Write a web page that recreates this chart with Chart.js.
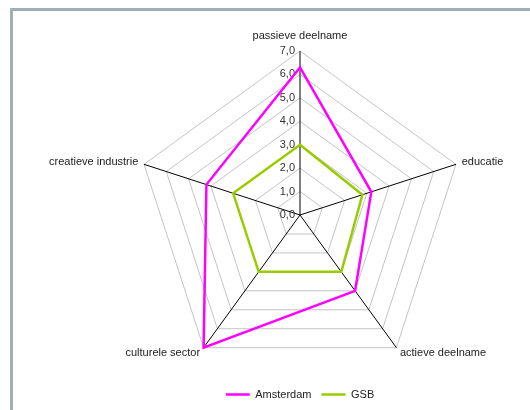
<!DOCTYPE html>
<html>
<head>
<meta charset="utf-8">
<script src="https://cdn.jsdelivr.net/npm/chart.js@4/dist/chart.umd.min.js"></script>
<style>
  html, body { margin: 0; padding: 0; background: #fff; overflow: hidden; }
  #c { display: block; }
</style>
</head>
<body>
<canvas id="c" width="530" height="410"></canvas>
<script>
// categorieën en waarden
const categorieen = ["passieve deelname", "educatie", "actieve deelname", "culturele sector", "creatieve industrie"];
const amsterdam = [6.3, 3.2, 4.0, 7.0, 4.2];
const gsb = [3.0, 2.8, 3.0, 3.0, 3.0];
const tickWaarden = [0, 1, 2, 3, 4, 5, 6, 7];

const lettertype = '"Liberation Sans", Arial, sans-serif';

// kader linksboven, zoals in het origineel
const kaderPlugin = {
  id: "kaderPlugin",
  beforeDraw(chart) {
    const ctx = chart.ctx;
    ctx.save();
    ctx.strokeStyle = "#9eafba";
    ctx.lineWidth = 3;
    ctx.beginPath();
    ctx.moveTo(11.5, chart.height);
    ctx.lineTo(11.5, 9.5);
    ctx.lineTo(chart.width, 9.5);
    ctx.stroke();
    ctx.restore();
  },
};

// tick labels en as-labels zelf tekenen (links van de as, met komma)
const labelsPlugin = {
  id: "labelsPlugin",
  beforeDatasetsDraw(chart) {
    const scale = chart.scales.r;
    const ctx = chart.ctx;
    ctx.save();
    ctx.font = "11px " + lettertype;
    ctx.fillStyle = "#333";
    ctx.textAlign = "right";
    ctx.textBaseline = "middle";
    tickWaarden.forEach(function (v) {
      const y = scale.yCenter - scale.getDistanceFromCenterForValue(v);
      ctx.fillText(v.toFixed(1).replace(".", ","), scale.xCenter - 5, y);
    });

    ctx.fillStyle = "#222";
    categorieen.forEach(function (naam, i) {
      const dx = scale.getPointPosition(i, scale.drawingArea).x - scale.xCenter;
      let pos;
      if (Math.abs(dx) < 1) {
        pos = scale.getPointPosition(i, scale.drawingArea + 10);
        ctx.textAlign = "center";
        ctx.textBaseline = "bottom";
      } else {
        pos = scale.getPointPosition(i, scale.drawingArea + 6);
        ctx.textAlign = dx > 0 ? "left" : "right";
        ctx.textBaseline = "middle";
      }
      ctx.fillText(naam, pos.x, pos.y);
    });
    ctx.restore();
  },
};

new Chart(document.getElementById("c"), {
  type: "radar",
  data: {
    labels: categorieen,
    datasets: [
      {
        label: "Amsterdam",
        data: amsterdam,
        borderColor: "#ff00ff",
        backgroundColor: "#ff00ff",
        borderWidth: 2.5,
        pointRadius: 0,
        fill: false,
      },
      {
        label: "GSB",
        data: gsb,
        borderColor: "#99cc00",
        backgroundColor: "#99cc00",
        borderWidth: 2.5,
        pointRadius: 0,
        fill: false,
      },
    ],
  },
  options: {
    responsive: false,
    animation: false,
    layout: {
      padding: { top: 51, left: 136, right: 66, bottom: 0 },
    },
    plugins: {
      legend: {
        position: "bottom",
        labels: {
          usePointStyle: true,
          pointStyle: "line",
          pointStyleWidth: 24,
          boxHeight: 2,
          color: "#222",
          font: { family: lettertype, size: 11 },
          padding: 10,
        },
      },
      tooltip: { enabled: false },
    },
    scales: {
      r: {
        min: 0,
        max: 7,
        ticks: { stepSize: 1, display: false },
        pointLabels: { display: false },
        grid: { color: "#c4c4c4", lineWidth: 1 },
        angleLines: { color: "#000", lineWidth: 1 },
      },
    },
  },
  plugins: [kaderPlugin, labelsPlugin],
});
</script>
</body>
</html>
